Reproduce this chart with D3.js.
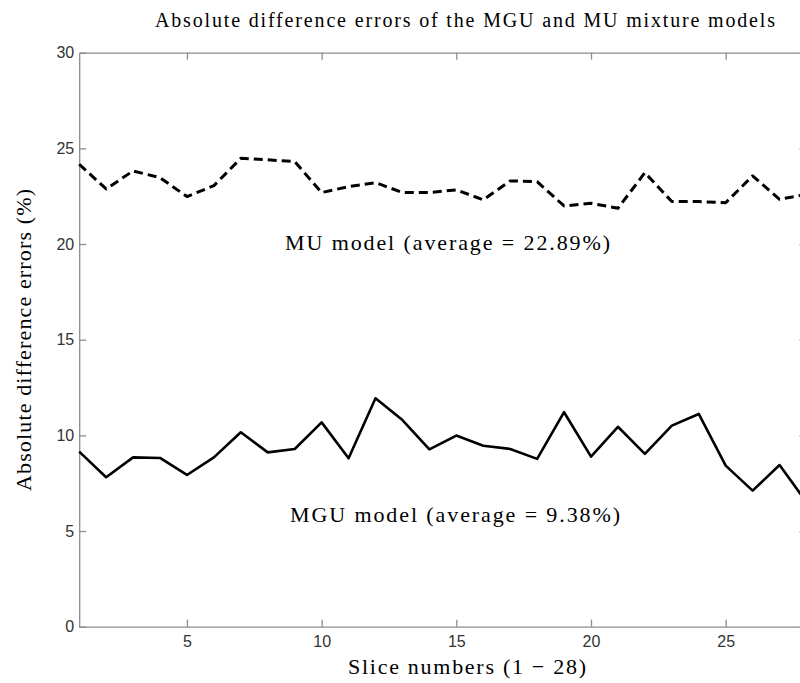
<!DOCTYPE html>
<html>
<head>
<meta charset="utf-8">
<script src="https://cdn.jsdelivr.net/npm/d3@7/dist/d3.min.js"></script>
<style>
  html, body { margin: 0; padding: 0; background: #fff; }
  svg { display: block; }
  .serif { font-family: "Liberation Serif", "Times New Roman", serif; fill: #000; }
  .tick text { font-family: "Liberation Sans", Arial, sans-serif; font-size: 16px; fill: #333; }
</style>
</head>
<body>
<svg id="chart" width="800" height="683"></svg>
<script>
// Slice indices 1..28
const slices = d3.range(1, 29);

// Absolute difference errors (%) per slice
const mguErrors = [9.15, 7.81, 8.85, 8.82, 7.93, 8.85, 10.16, 9.11, 9.29, 10.68,
                   8.80, 11.94, 10.80, 9.27, 9.99, 9.46, 9.29, 8.77, 11.21, 8.89,
                   10.45, 9.03, 10.51, 11.12, 8.42, 7.11, 8.45, 6.50];
const muErrors  = [24.17, 22.88, 23.82, 23.47, 22.48, 23.05, 24.48, 24.40, 24.31, 22.69,
                   23.00, 23.21, 22.69, 22.69, 22.83, 22.31, 23.30, 23.26, 21.99, 22.13,
                   21.87, 23.73, 22.22, 22.22, 22.16, 23.56, 22.34, 22.60];

const xTicks = [5, 10, 15, 20, 25];
const yTicks = [0, 5, 10, 15, 20, 25, 30];

const titleText = "Absolute difference errors of the MGU and MU mixture models";
const xLabel = "Slice numbers (1 \u2212 28)";
const yLabel = "Absolute difference errors (%)";
const muNote = "MU model (average = 22.89%)";
const mguNote = "MGU model (average = 9.38%)";

const svg = d3.select("#chart");
const plot = { left: 79.2, right: 806.5, top: 52.7, bottom: 626.7 };

const x = d3.scaleLinear().domain([1, 28]).range([plot.left, plot.right]);
const y = d3.scaleLinear().domain([0, 30]).range([plot.bottom, plot.top]);

const axisColor = "#8c8c8c";

// Frame with inward ticks on all four sides
function styleAxis(g) {
  g.select(".domain").attr("stroke", axisColor).attr("stroke-width", 1.3);
  g.selectAll(".tick line").attr("stroke", axisColor).attr("stroke-width", 1.3);
}

svg.append("g")
  .attr("transform", `translate(0,${plot.bottom})`)
  .call(d3.axisBottom(x).tickValues(xTicks).tickSizeInner(-7).tickSizeOuter(0).tickPadding(9))
  .call(styleAxis);

svg.append("g")
  .attr("transform", `translate(0,${plot.top})`)
  .call(d3.axisTop(x).tickValues(xTicks).tickSizeInner(-7).tickSizeOuter(0).tickFormat(""))
  .call(styleAxis);

svg.append("g")
  .attr("transform", `translate(${plot.left},0)`)
  .call(d3.axisLeft(y).tickValues(yTicks).tickSizeInner(-7).tickSizeOuter(0).tickPadding(5))
  .call(styleAxis);

svg.append("g")
  .attr("transform", `translate(${plot.right},0)`)
  .call(d3.axisRight(y).tickValues(yTicks).tickSizeInner(-7).tickSizeOuter(0).tickFormat(""))
  .call(styleAxis);

// Series lines
const line = d3.line().x((d, i) => x(slices[i])).y(d => y(d));

svg.append("path")
  .datum(muErrors)
  .attr("d", line)
  .attr("fill", "none")
  .attr("stroke", "#000")
  .attr("stroke-width", 3)
  .attr("stroke-dasharray", "9,5")
  .attr("stroke-linejoin", "round");

svg.append("path")
  .datum(mguErrors)
  .attr("d", line)
  .attr("fill", "none")
  .attr("stroke", "#000")
  .attr("stroke-width", 2.6)
  .attr("stroke-linejoin", "round");

// Texts
svg.append("text").attr("class", "serif")
  .attr("x", 155).attr("y", 27)
  .attr("font-size", 20)
  .attr("textLength", 620).attr("lengthAdjust", "spacing")
  .text(titleText);

svg.append("text").attr("class", "serif")
  .attr("x", 348).attr("y", 674)
  .attr("font-size", 22)
  .attr("textLength", 238).attr("lengthAdjust", "spacing")
  .text(xLabel);

svg.append("text").attr("class", "serif")
  .attr("transform", "translate(31,491) rotate(-90)")
  .attr("font-size", 22)
  .attr("textLength", 302).attr("lengthAdjust", "spacing")
  .text(yLabel);

svg.append("text").attr("class", "serif")
  .attr("x", 285).attr("y", 250)
  .attr("font-size", 22)
  .attr("textLength", 325).attr("lengthAdjust", "spacing")
  .text(muNote);

svg.append("text").attr("class", "serif")
  .attr("x", 290).attr("y", 522)
  .attr("font-size", 22)
  .attr("textLength", 330).attr("lengthAdjust", "spacing")
  .text(mguNote);
</script>
</body>
</html>
